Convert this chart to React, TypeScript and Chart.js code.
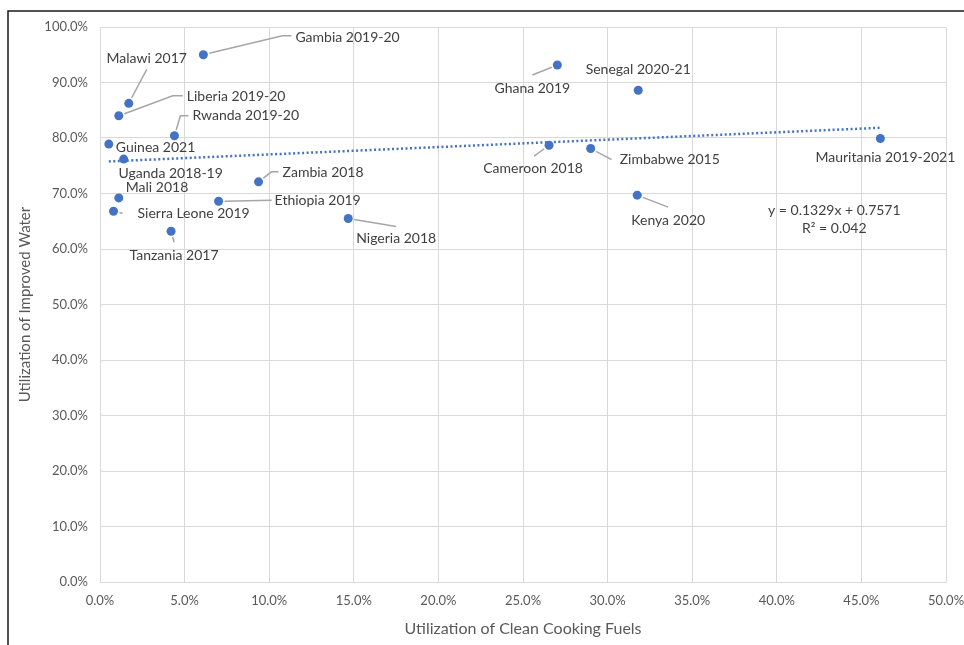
import React, { useEffect, useRef } from "react";
import { Chart, registerables } from "chart.js";

Chart.register(...registerables);

const countries = [
  "Gambia 2019-20", "Malawi 2017", "Liberia 2019-20", "Rwanda 2019-20", "Guinea 2021",
  "Uganda 2018-19", "Zambia 2018", "Mali 2018", "Ethiopia 2019", "Sierra Leone 2019",
  "Tanzania 2017", "Nigeria 2018", "Ghana 2019", "Senegal 2020-21", "Cameroon 2018",
  "Zimbabwe 2015", "Kenya 2020", "Mauritania 2019-2021",
];
const cookingFuel = [
  0.0611, 0.0170, 0.0111, 0.0440, 0.0052,
  0.0140, 0.0937, 0.0111, 0.0701, 0.0080,
  0.0420, 0.1467, 0.2703, 0.3181, 0.2654,
  0.2900, 0.3175, 0.4612,
];
const improvedWater = [
  0.950, 0.8625, 0.840, 0.804, 0.789,
  0.762, 0.721, 0.692, 0.686, 0.668,
  0.632, 0.655, 0.9315, 0.886, 0.787,
  0.781, 0.697, 0.799,
];
const trendSlope = 0.1329;
const trendIntercept = 0.7571;
const equationLines = ["y = 0.1329x + 0.7571", "R\u00B2 = 0.042"];
const xTitle = "Utilization of Clean Cooking Fuels";
const yTitle = "Utilization of Improved Water";

// label layout (pixel offsets from each point) - styling only
const labelLayout: { dx: number; dy: number; align: CanvasTextAlign; leader: number[][] }[] = [
  { dx: 92, dy: -17, align: "left", leader: [[79, -19], [88, -19]] },
  { dx: 18, dy: -45, align: "center", leader: [[18, -34]] },
  { dx: 68, dy: -19, align: "left", leader: [[54, -20], [64, -20]] },
  { dx: 18, dy: -20, align: "left", leader: [[6, -20], [14, -20]] },
  { dx: 7, dy: 3, align: "left", leader: [] },
  { dx: 47, dy: 14, align: "center", leader: [] },
  { dx: 24, dy: -9, align: "left", leader: [[13, -10], [20, -10]] },
  { dx: 7, dy: -10, align: "left", leader: [] },
  { dx: 56, dy: -1, align: "left", leader: [[53, -1]] },
  { dx: 24, dy: 2, align: "left", leader: [[9, 2]] },
  { dx: 3, dy: 24, align: "center", leader: [[3, 11]] },
  { dx: 8, dy: 20, align: "left", leader: [[48, 8]] },
  { dx: -25, dy: 23, align: "center", leader: [[-25, 10]] },
  { dx: 0, dy: -21, align: "center", leader: [] },
  { dx: -16, dy: 23, align: "center", leader: [[-15, 11]] },
  { dx: 29, dy: 11, align: "left", leader: [[21, 11]] },
  { dx: 31, dy: 25, align: "center", leader: [[31, 12]] },
  { dx: 5, dy: 19, align: "center", leader: [] },
];

const FONT = "Lato, 'Open Sans', sans-serif";
const BLUE = "#4472C4";

const labelPlugin = {
  id: "pointLabels",
  afterDatasetsDraw(chart: any) {
    const ctx = chart.ctx;
    const meta = chart.getDatasetMeta(0);
    ctx.save();
    meta.data.forEach((el: any, i: number) => {
      const lay = labelLayout[i];
      const px = el.x, py = el.y;
      if (lay.leader.length) {
        const first = lay.leader[0];
        const ang = Math.atan2(first[1], first[0]);
        const r = 6;
        ctx.beginPath();
        ctx.moveTo(px + Math.cos(ang) * r, py + Math.sin(ang) * r);
        lay.leader.forEach((p) => ctx.lineTo(px + p[0], py + p[1]));
        ctx.strokeStyle = "#A6A6A6";
        ctx.lineWidth = 1.5;
        ctx.stroke();
      }
      ctx.font = `14px ${FONT}`;
      ctx.fillStyle = "#404040";
      ctx.textAlign = lay.align;
      ctx.textBaseline = "middle";
      ctx.fillText(countries[i], px + lay.dx, py + lay.dy);
    });
    // equation
    const xs = chart.scales.x, ys = chart.scales.y;
    const ex = xs.getPixelForValue(0.434);
    const ey = ys.getPixelForValue(0.67);
    ctx.textAlign = "center";
    ctx.fillText(equationLines[0], ex, ey);
    ctx.fillText(equationLines[1], ex, ey + 18);
    ctx.restore();
  },
  afterDraw(chart: any) {
    const ctx = chart.ctx;
    ctx.save();
    ctx.strokeStyle = "#1a1a1a";
    ctx.lineWidth = 1.5;
    ctx.beginPath();
    ctx.moveTo(8, chart.height);
    ctx.lineTo(8, 11);
    ctx.lineTo(chart.width, 11);
    ctx.stroke();
    ctx.restore();
  },
};

export default function App() {
  const ref = useRef<HTMLCanvasElement | null>(null);
  useEffect(() => {
    document.body.style.margin = "0";
    const xMin = Math.min(...cookingFuel);
    const xMax = Math.max(...cookingFuel);
    const trend = [
      { x: xMin, y: trendSlope * xMin + trendIntercept },
      { x: xMax, y: trendSlope * xMax + trendIntercept },
    ];
    const chart = new Chart(ref.current as HTMLCanvasElement, {
      type: "scatter",
      data: {
        datasets: [
          {
            label: "Countries",
            data: cookingFuel.map((x, i) => ({ x, y: improvedWater[i] })),
            backgroundColor: BLUE,
            borderColor: BLUE,
            pointRadius: 4.5,
            borderWidth: 0,
          },
          {
            type: "line",
            label: "Trend",
            data: trend,
            borderColor: BLUE,
            borderWidth: 2.5,
            borderDash: [2, 2.5],
            pointRadius: 0,
            fill: false,
          } as any,
        ],
      },
      options: {
        responsive: false,
        animation: false,
        devicePixelRatio: 1,
        layout: { padding: { left: 0, right: 18, top: 27, bottom: 0 } },
        plugins: { legend: { display: false }, tooltip: { enabled: false } },
        scales: {
          x: {
            type: "linear",
            min: 0,
            max: 0.5,
            afterFit: (s: any) => { s.height = 63; s.paddingLeft = 0; s.paddingRight = 0; },
            ticks: {
              stepSize: 0.05,
              padding: 11,
              color: "#595959",
              font: { family: FONT, size: 13 },
              maxRotation: 0,
              callback: (v: any) => (Number(v) * 100).toFixed(1) + "%",
            },
            grid: { color: "#D9D9D9", lineWidth: 1, drawTicks: false },
            border: { color: "#D9D9D9" },
            title: {
              display: true,
              text: xTitle,
              color: "#595959",
              font: { family: FONT, size: 16 },
              padding: { top: 0, bottom: 7 },
            },
          },
          y: {
            type: "linear",
            min: 0,
            max: 1,
            afterFit: (s: any) => { s.width = 100; s.paddingTop = 0; s.paddingBottom = 0; },
            ticks: {
              stepSize: 0.1,
              padding: 12,
              color: "#595959",
              font: { family: FONT, size: 13 },
              callback: (v: any) => (Number(v) * 100).toFixed(1) + "%",
            },
            grid: { color: "#D9D9D9", lineWidth: 1, drawTicks: false },
            border: { color: "#D9D9D9" },
            title: {
              display: true,
              text: yTitle,
              color: "#595959",
              font: { family: FONT, size: 15 },
              padding: { top: 16, bottom: 0 },
            },
          },
        },
      },
      plugins: [labelPlugin],
    });
    return () => chart.destroy();
  }, []);
  return (
    <div style={{ width: 964, height: 645 }}>
      <canvas ref={ref} width={964} height={645} style={{ display: "block" }} />
    </div>
  );
}
